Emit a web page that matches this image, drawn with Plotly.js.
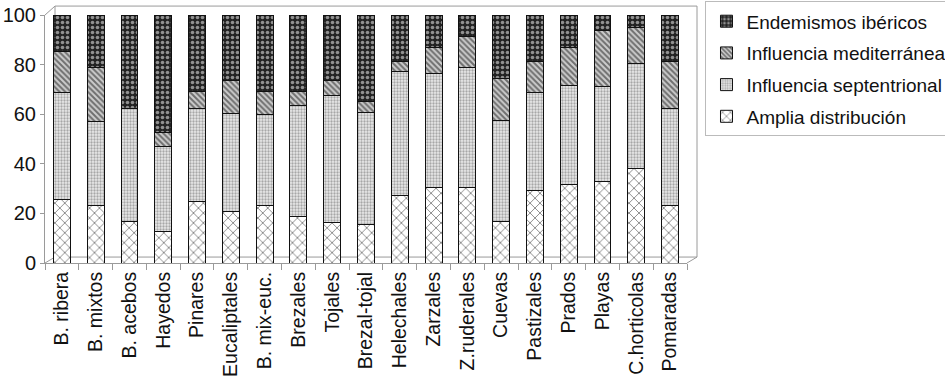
<!DOCTYPE html>
<html>
<head>
<meta charset="utf-8">
<script src="https://cdn.plot.ly/plotly-3.0.1.min.js"></script>
<style>html,body{margin:0;padding:0;background:#fff;}#chart{width:945px;height:382px;}</style>
</head>
<body>
<div id="chart"></div>
<script>
const categories = ['B. ribera','B. mixtos','B. acebos','Hayedos','Pinares','Eucaliptales','B. mix-euc.','Brezales','Tojales','Brezal-tojal','Helechales','Zarzales','Z.ruderales','Cuevas','Pastizales','Prados','Playas','C.horticolas','Pomaradas'];
const amplia = [25.6,23.3,16.8,12.6,25.0,20.8,23.2,18.9,16.3,15.6,27.4,30.3,30.3,16.8,29.1,31.8,32.7,38.0,23.2];
const septentrional = [43.3,33.7,45.5,34.2,37.3,39.5,36.7,44.7,51.2,44.9,49.8,46.1,48.5,40.8,39.8,39.7,38.4,42.4,39.1];
const mediterranea = [16.5,21.8,0,5.9,6.8,13.2,9.2,5.5,6.0,4.7,3.9,10.4,12.6,16.6,12.2,15.5,22.5,14.6,18.8];
const endemismos = [14.6,21.2,37.7,47.3,30.9,26.5,30.9,30.9,26.5,34.8,18.9,13.2,8.6,25.8,18.9,13.0,6.4,5.0,18.9];
const yTicks = [0,20,40,60,80,100];

const line = {color:'#111', width:1};
const traces = [
  {name:'Amplia distribución', y:amplia, legendrank:4, marker:{color:'#fff', line:line, pattern:{shape:'x', fgcolor:'#111', size:7, solidity:0.25, fillmode:'overlay'}}, legendgroup:'a'},
  {name:'Influencia septentrional', y:septentrional, legendrank:3, marker:{color:'#e8e8e8', line:line, pattern:{shape:'.', fgcolor:'#666', size:3, solidity:0.45, fillmode:'overlay'}}, legendgroup:'b'},
  {name:'Influencia mediterránea', y:mediterranea, legendrank:2, marker:{color:'#ccc', line:line, pattern:{shape:'\\', fgcolor:'#111', size:4, solidity:0.5, fillmode:'overlay'}}, legendgroup:'c'},
  {name:'Endemismos ibéricos', y:endemismos, legendrank:1, marker:{color:'#222', line:line, pattern:{shape:'.', fgcolor:'#fff', size:5, solidity:0.4, fillmode:'overlay'}}, legendgroup:'d'}
].map(t => Object.assign({type:'bar', x:categories, width:0.5, hoverinfo:'skip'}, t));

const g = '#9a9a9a';
const dX = 0.0156, yTop = 1.036, yFl = 0.024;
function seg(x0,y0,x1,y1){return {type:'line', xref:'paper', yref:'paper', x0:x0, y0:y0, x1:x1, y1:y1, line:{color:g, width:1}, layer:'below'};}
const shapes = [
  seg(0,1,dX,yTop), seg(dX,yTop,1+dX,yTop), seg(1+dX,yTop,1+dX,yFl), seg(dX,yFl,1+dX,yFl),
  seg(0,0,dX,yFl), seg(1,0,1+dX,yFl), seg(dX,yFl,dX,yTop)
];

const layout = {
  width:945, height:382,
  margin:{l:45, r:258, t:15, b:119, pad:0, autoexpand:false},
  paper_bgcolor:'#fff', plot_bgcolor:'rgba(0,0,0,0)',
  font:{family:'"Liberation Sans", Arial, sans-serif', size:19, color:'#111'},
  barmode:'stack', bargap:0.5,
  showlegend:true,
  legend:{x:1.0288, xanchor:'left', y:1.055, yanchor:'top', traceorder:'grouped', tracegroupgap:4,
    bordercolor:'#bbb', borderwidth:1, bgcolor:'#fff', font:{size:19}, itemwidth:30},
  xaxis:{type:'category', showline:true, linecolor:g, linewidth:1, ticks:'outside', tickson:'boundaries', ticklen:6, tickcolor:g,
    tickangle:-90, tickfont:{size:19.5}, showgrid:false, zeroline:false, fixedrange:true},
  yaxis:{range:[0,100], tickvals:yTicks, ticktext:yTicks.map(String), showline:true, linecolor:g, linewidth:1, ticks:'outside', ticklen:4, tickcolor:g,
    tickfont:{size:20}, showgrid:false, zeroline:false, fixedrange:true},
  shapes:shapes
};
Plotly.newPlot('chart', traces, layout, {displayModeBar:false, staticPlot:true});
</script>
</body>
</html>
